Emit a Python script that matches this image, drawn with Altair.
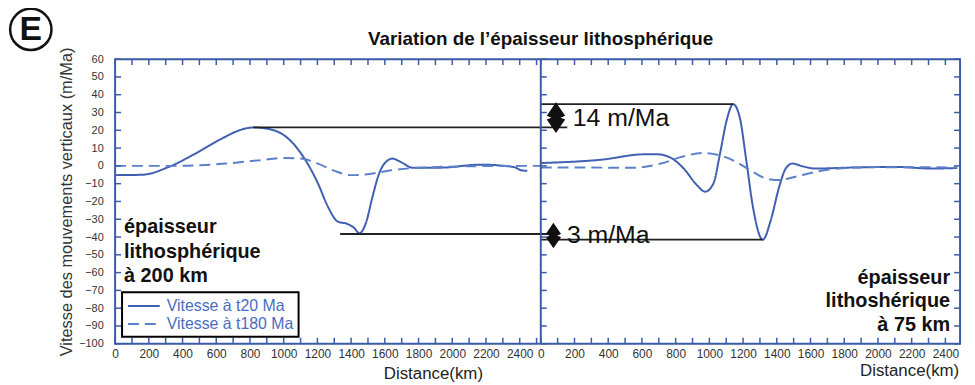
import altair as alt
import pandas as pd

FONT = "Liberation Sans"
BLUE = "#3b5aa8"
OFFSET = 2525          # where the right-hand panel starts on the shared x scale
XMAX = 5012
W, H = 852, 287

SERIES = ["Vitesse à t20 Ma", "Vitesse à t180 Ma"]
YTITLE = "Vitesse des mouvements verticaux (m/Ma)"
TITLE = "Variation de l’épaisseur lithosphérique"

# Left panel (lithosphere 200 km)
L_SOLID_KM = [0, 160, 318, 476, 632, 750, 820, 927, 1026, 1124, 1203, 1262, 1321, 1380, 1419, 1449,
              1488, 1527, 1566, 1606, 1645, 1694, 1763, 1929, 2165, 2362, 2411, 2445]
L_SOLID_V = [-5.2, -5.0, -0.6, 6.9, 15.3, 20.4, 21.6, 20.4, 15.4, 4.0, -9.8, -22.9, -31.3, -32.7, -35.0, -37.9,
             -32.0, -17.3, -4.3, 2.2, 4.1, 2.2, -1.0, -1.0, 0.7, -0.6, -2.5, -2.8]
L_DASH_KM = [0, 358, 654, 850, 1007, 1104, 1203, 1301, 1399, 1498, 1635, 1773, 2127, 2422, 2525]
L_DASH_V = [0.0, 0.0, 1.3, 3.1, 4.4, 4.1, 1.3, -2.8, -5.2, -4.7, -2.5, -1.2, -0.2, 0.0, 0.0]

# Right panel (lithosphere 75 km)
R_SOLID_KM = [0, 361, 614, 692, 770, 848, 926, 975, 1024, 1063, 1102, 1141, 1180, 1219, 1258, 1317,
              1365, 1414, 1453, 1492, 1551, 1628, 1823, 2116, 2311, 2470]
R_SOLID_V = [1.6, 3.5, 6.5, 6.5, 4.6, -1.5, -10.8, -14.5, -9.9, 6.8, 25.4, 34.7, 27.3, 3.1, -22.9, -41.5,
             -30.3, -11.8, -1.5, 1.3, -0.2, -1.5, -1.0, -0.6, -1.5, -1.2]
R_DASH_KM = [0, 556, 712, 848, 965, 1063, 1160, 1258, 1336, 1414, 1492, 1628, 1765, 1960, 2470]
R_DASH_V = [-0.9, -1.0, 1.3, 5.4, 7.2, 5.9, 2.2, -3.4, -7.1, -8.0, -6.5, -3.4, -1.5, -0.7, -0.9]

YTICKS = list(range(-100, 61, 10))
XLABELS_L = list(range(0, 2401, 200))
XLABELS_R = list(range(0, 2401, 200))
XTICKS_L = list(range(0, 2501, 100))
XTICKS_R = list(range(0, 2401, 100))

# Reference lines (x on the shared scale, y in m/Ma)
HL_X1 = [820, 1335, OFFSET, OFFSET]
HL_X2 = [2682, 2600, OFFSET + 1141, OFFSET + 1317]
HL_Y = [21.6, -38.3, 34.7, -41.5]

# Double-arrow markers
MK_X = [2615, 2600]
MK_Y = [27.1, -39.2]
MK_SIZE = [960, 660]

AMP_TEXT = ["14 m/Ma", "3 m/Ma"]
AMP_X = [2715, 2680]
AMP_Y = [27.0, -39.0]

LEFT_NOTE = ["épaisseur", "lithosphérique", "à 200 km"]
LEFT_NOTE_Y = [-34.2, -48.2, -62.1]
LEFT_NOTE_X = 53
RIGHT_NOTE = ["épaisseur", "lithoshérique", "à 75 km"]
RIGHT_NOTE_Y = [-63.2, -76.0, -89.4]
RIGHT_NOTE_X = 4953

rows = []
for kms, vs, s, part, off in [
    (L_SOLID_KM, L_SOLID_V, SERIES[0], "L", 0),
    (L_DASH_KM, L_DASH_V, SERIES[1], "L", 0),
    (R_SOLID_KM, R_SOLID_V, SERIES[0], "R", OFFSET),
    (R_DASH_KM, R_DASH_V, SERIES[1], "R", OFFSET),
]:
    for k, v in zip(kms, vs):
        rows.append({"x": k + off, "v": v, "s": s, "part": part})
df = pd.DataFrame(rows)

xs = alt.Scale(domain=[0, XMAX], nice=False, zero=False)
ys = alt.Scale(domain=[-100, 60], nice=False, zero=False)

label_pos = XLABELS_L + [OFFSET + v for v in XLABELS_R]
label_expr = (f"datum.value >= {OFFSET} ? format(datum.value - {OFFSET}, 'd') "
              f": format(datum.value, 'd')")

AXIS_X = alt.Axis(values=label_pos, labelExpr=label_expr, title=None, labelOverlap=False,
                  labelFlush=False, labelBound=False, grid=False, ticks=False, domain=False,
                  labelFont=FONT, labelColor="#333", labelFontSize=12, labelPadding=5)
AXIS_Y = alt.Axis(values=YTICKS, title=YTITLE, labelOverlap=False, labelFlush=False,
                  labelBound=False, grid=False, ticks=False, domain=False,
                  labelFont=FONT, labelColor="#333", labelFontSize=11, labelPadding=12,
                  titleFont=FONT, titleColor="#333", titleFontWeight="normal",
                  titleFontSize=16.5, titlePadding=4)


def X(field):
    return alt.X(field, scale=xs, title=None, axis=AXIS_X)


def Y(field):
    return alt.Y(field, scale=ys, title=YTITLE, axis=AXIS_Y)


legend = alt.Legend(title=None, orient="none", legendX=7, legendY=235,
                    symbolType="M-2,0L2,0", symbolSize=256, symbolStrokeWidth=2,
                    symbolOffset=8, labelOffset=14,
                    labelFontSize=16, labelFont=FONT, labelColor="#4a6cbf",
                    rowPadding=1, padding=5,
                    strokeColor="black", fillColor="white")

lines = alt.Chart(df).mark_line(interpolate="monotone", strokeWidth=2).encode(
    x=X("x:Q"),
    y=Y("v:Q"),
    color=alt.Color("s:N", scale=alt.Scale(domain=SERIES, range=["#3f5fb0", "#5b80c9"]),
                    legend=legend),
    strokeDash=alt.StrokeDash("s:N", scale=alt.Scale(domain=SERIES, range=[[1, 0], [11, 6]]),
                              legend=legend),
    detail="part:N",
)

hl_df = pd.DataFrame({"x1": HL_X1, "x2": HL_X2, "y": HL_Y})
hlines = alt.Chart(hl_df).mark_rule(color="#222", strokeWidth=1.8).encode(
    x=X("x1:Q"), x2="x2:Q", y=Y("y:Q"))

arrow_path = "M0,-1L0.6,-0.12L0.3,0L0.6,0.12L0,1L-0.6,0.12L-0.3,0L-0.6,-0.12Z"
mk_df = pd.DataFrame({"x": MK_X, "y": MK_Y, "sz": MK_SIZE})
markers = alt.Chart(mk_df).mark_point(shape=arrow_path, filled=True, color="#111", opacity=1).encode(
    x=X("x:Q"), y=Y("y:Q"), size=alt.Size("sz:Q", scale=None, legend=None))

amp_df = pd.DataFrame({"x": AMP_X, "y": AMP_Y, "t": AMP_TEXT})
amp = alt.Chart(amp_df).mark_text(align="left", baseline="middle", fontSize=25, font=FONT,
                                  color="#111").encode(x=X("x:Q"), y=Y("y:Q"), text="t:N")

ln_df = pd.DataFrame({"x": [LEFT_NOTE_X] * 3, "y": LEFT_NOTE_Y, "t": LEFT_NOTE})
lnote = alt.Chart(ln_df).mark_text(align="left", baseline="middle", fontSize=20, font=FONT,
                                   fontWeight="bold", color="#111").encode(
    x=X("x:Q"), y=Y("y:Q"), text="t:N")

rn_df = pd.DataFrame({"x": [RIGHT_NOTE_X] * 3, "y": RIGHT_NOTE_Y, "t": RIGHT_NOTE})
rnote = alt.Chart(rn_df).mark_text(align="right", baseline="middle", fontSize=20, font=FONT,
                                   fontWeight="bold", color="#111").encode(
    x=X("x:Q"), y=Y("y:Q"), text="t:N")

# Frame decorations: divider and inward ticks
div_df = pd.DataFrame({"xd": [OFFSET]})
divider = alt.Chart(div_df).mark_rule(color=BLUE, strokeWidth=2).encode(x=X("xd:Q"))

yt_df = pd.DataFrame({"y": YTICKS, "xd": [OFFSET] * len(YTICKS)})
ytick_left = alt.Chart(yt_df).mark_rule(color=BLUE, strokeWidth=1.5).encode(
    y=Y("y:Q"), x=alt.value(0), x2=alt.value(6))
ytick_div = alt.Chart(yt_df).mark_rule(color=BLUE, strokeWidth=1.5, x2Offset=6).encode(
    y=Y("y:Q"), x=X("xd:Q"), x2="xd:Q")
ytick_right = alt.Chart(yt_df).mark_rule(color=BLUE, strokeWidth=1.5).encode(
    y=Y("y:Q"), x=alt.value(W - 6), x2=alt.value(W))

xt_df = pd.DataFrame({"x": XTICKS_L + [OFFSET + v for v in XTICKS_R]})
xtick_top = alt.Chart(xt_df).mark_rule(color=BLUE, strokeWidth=1.5).encode(
    x=X("x:Q"), y=alt.value(0), y2=alt.value(6))
xtick_bot = alt.Chart(xt_df).mark_rule(color=BLUE, strokeWidth=1.5).encode(
    x=X("x:Q"), y=alt.value(H - 6), y2=alt.value(H))

# x axis titles (one per panel)
dist_df = pd.DataFrame({"x": [1888], "t": ["Distance(km)"]})
dist_l = alt.Chart(dist_df).mark_text(align="center", baseline="middle", fontSize=17, font=FONT,
                                      color="#222").encode(
    x=X("x:Q"), y=alt.value(H + 31), text="t:N")
dist_df2 = pd.DataFrame({"x": [XMAX - 5], "t": ["Distance(km)"]})
dist_r = alt.Chart(dist_df2).mark_text(align="right", baseline="middle", fontSize=17, font=FONT,
                                       color="#222").encode(
    x=X("x:Q"), y=alt.value(H + 28), text="t:N")

# Chart title and panel letter
t_df = pd.DataFrame({"t": [TITLE]})
title = alt.Chart(t_df).mark_text(fontSize=19, fontWeight="bold", font=FONT, color="#111",
                                  baseline="middle", align="center").encode(
    x=alt.value(429), y=alt.value(-20), text="t:N")

e_df = pd.DataFrame({"t": ["E"]})
e_circle = alt.Chart(e_df).mark_point(shape="circle", size=1735, filled=False, color="#111",
                                      strokeWidth=2.5, opacity=1).encode(
    x=alt.value(-85), y=alt.value(-30))
e_text = alt.Chart(e_df).mark_text(fontSize=34, fontWeight="bold", font=FONT, color="#111",
                                   baseline="middle", align="center", dy=1).encode(
    x=alt.value(-85), y=alt.value(-30), text="t:N")

chart = alt.layer(
    lines, hlines, markers, amp, lnote, rnote, divider,
    ytick_left, ytick_div, ytick_right, xtick_top, xtick_bot,
    dist_l, dist_r, title, e_circle, e_text,
).properties(
    width=W, height=H,
    padding={"left": 108, "top": 50, "right": 7, "bottom": 40},
    autosize=alt.AutoSizeParams(type="none"),
).configure_view(
    stroke=BLUE, strokeWidth=2
).configure_legend(
    strokeWidth=2
)

chart.save("out.html", embed_options={"renderer": "svg", "actions": False})
